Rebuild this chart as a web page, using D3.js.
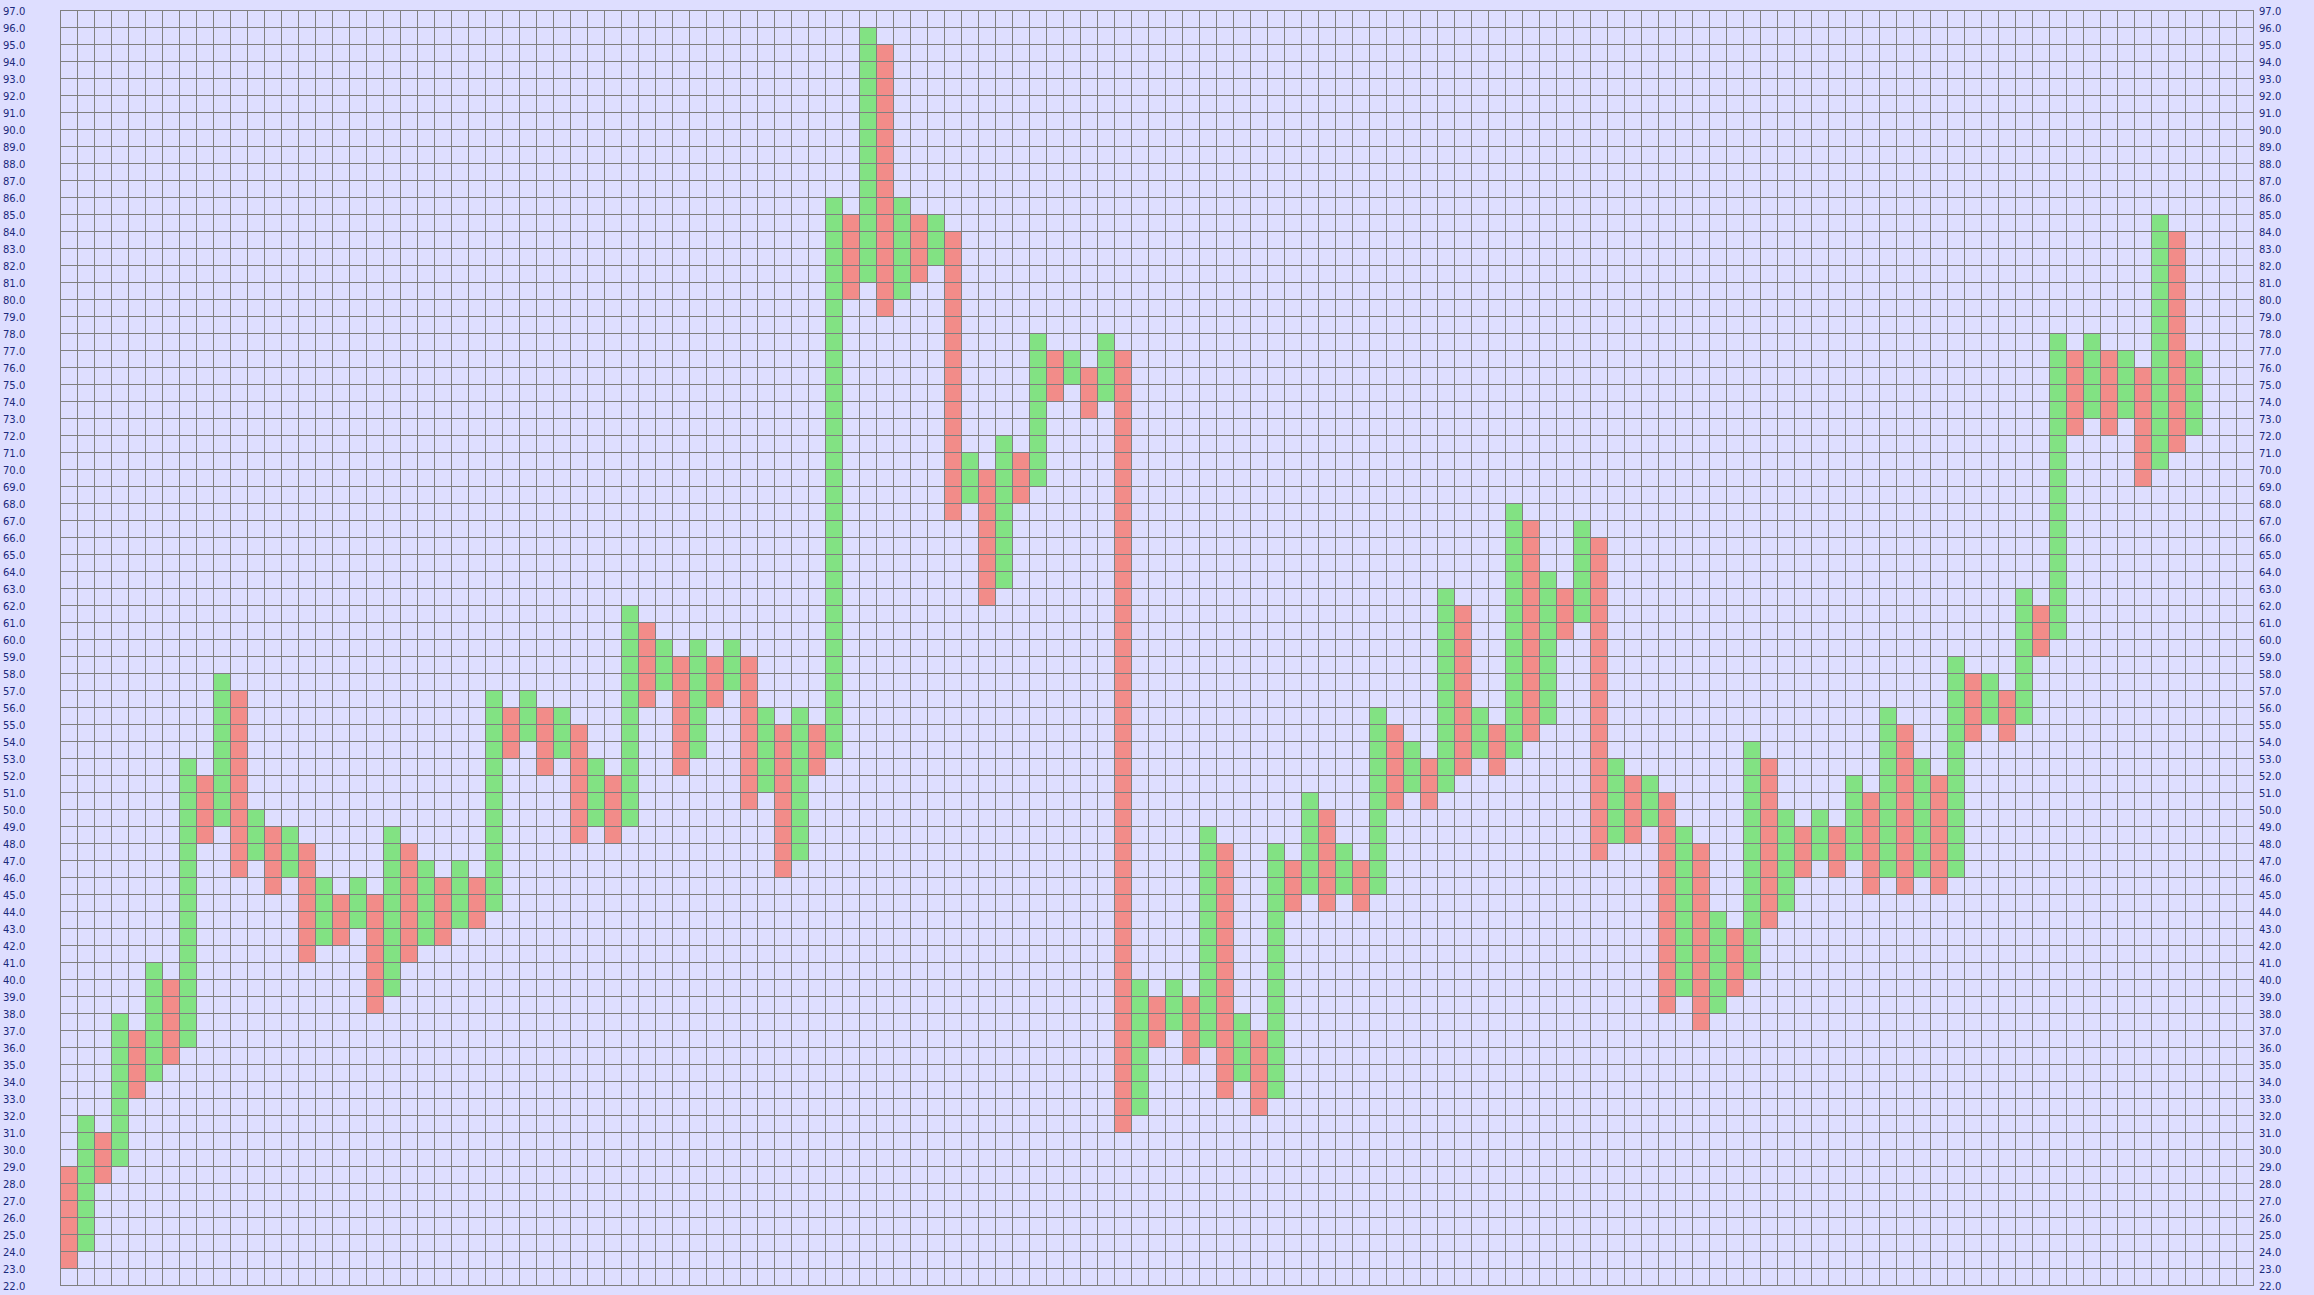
<!DOCTYPE html>
<html lang="en">

<head>
    <title>Box chart</title>
    <meta charset="utf-8">
    <script src="https://d3js.org/d3.v7.min.js"></script>
    <style>
        html, body { margin: 0; padding: 0; background: #dedeff; }
        svg { display: block; }
    </style>
</head>

<body>
    <div id="container"></div>
    <script>
        // Column data: where each column starts and ends (price boxes)
        const starts = [29, 24, 31, 29, 37, 34, 40, 36, 52, 49,
            57, 47, 49, 46, 48, 42, 45, 43, 45, 39,
            48, 42, 46, 43, 46, 44, 56, 54, 56, 53,
            55, 49, 52, 49, 61, 57, 59, 53, 59, 57,
            59, 51, 55, 47, 55, 53, 85, 81, 95, 80,
            85, 82, 84, 68, 70, 63, 71, 69, 77, 75,
            76, 74, 77, 32, 39, 37, 39, 36, 48, 34,
            37, 33, 47, 45, 50, 45, 47, 45, 55, 51,
            53, 51, 62, 53, 55, 53, 67, 55, 63, 61,
            66, 48, 52, 49, 51, 39, 48, 38, 43, 40,
            53, 44, 49, 47, 49, 47, 51, 46, 55, 46,
            52, 46, 58, 55, 57, 55, 62, 60, 77, 73,
            77, 73, 76, 70, 84, 72];

        const ends = [23, 32, 28, 38, 33, 41, 35, 53, 48, 58,
            46, 50, 45, 49, 41, 46, 42, 46, 38, 49,
            41, 47, 42, 47, 43, 57, 53, 57, 52, 56,
            48, 53, 48, 62, 56, 60, 52, 60, 56, 60,
            50, 56, 46, 56, 52, 86, 80, 96, 79, 86,
            81, 85, 67, 71, 62, 72, 68, 78, 74, 77,
            73, 78, 31, 40, 36, 40, 35, 49, 33, 38,
            32, 48, 44, 51, 44, 48, 44, 56, 50, 54,
            50, 63, 52, 56, 52, 68, 54, 64, 60, 67,
            47, 53, 48, 52, 38, 49, 37, 44, 39, 54,
            43, 50, 46, 50, 46, 52, 45, 56, 45, 53,
            45, 59, 54, 58, 54, 63, 59, 78, 72, 78,
            72, 77, 69, 85, 71, 77];

        // Axis setup
        const yMin = 22, yMax = 97;
        const columnCount = 129;
        const yTicks = d3.range(yMin, yMax + 1);

        // Chart dimensions
        const totalWidth = 2314, totalHeight = 1295;
        const margin = { top: 10, right: 61, bottom: 10, left: 60 };

        const svg = d3.select("#container")
            .append("svg")
            .attr("width", totalWidth)
            .attr("height", totalHeight);

        svg.append("rect")
            .attr("width", totalWidth)
            .attr("height", totalHeight)
            .attr("fill", "#dedeff");

        // Scales
        const xScale = d3.scaleLinear()
            .domain([0, columnCount])
            .range([margin.left, totalWidth - margin.right]);

        const yScale = d3.scaleLinear()
            .domain([yMin, yMax])
            .range([totalHeight - margin.bottom, margin.top]);

        const columns = starts.map((s, i) => ({ i, start: s, end: ends[i] }));

        // Draw boxes
        svg.append("g")
            .selectAll("rect")
            .data(columns)
            .join("rect")
            .attr("x", d => xScale(d.i))
            .attr("width", d => xScale(d.i + 1) - xScale(d.i))
            .attr("y", d => yScale(Math.max(d.start, d.end)))
            .attr("height", d => yScale(Math.min(d.start, d.end)) - yScale(Math.max(d.start, d.end)))
            .attr("fill", d => d.end > d.start ? "#82e283" : "#f28c89")
            .attr("shape-rendering", "crispEdges");

        // Grid
        const grid = svg.append("g")
            .attr("stroke", "#808080")
            .attr("stroke-width", 1)
            .attr("shape-rendering", "crispEdges");

        grid.selectAll("line.h")
            .data(yTicks)
            .join("line")
            .attr("class", "h")
            .attr("x1", xScale(0))
            .attr("x2", xScale(columnCount) + 1)
            .attr("y1", d => yScale(d) + 0.5)
            .attr("y2", d => yScale(d) + 0.5);

        grid.selectAll("line.v")
            .data(d3.range(0, columnCount + 1))
            .join("line")
            .attr("class", "v")
            .attr("x1", d => xScale(d) + 0.5)
            .attr("x2", d => xScale(d) + 0.5)
            .attr("y1", yScale(yMax))
            .attr("y2", yScale(yMin) + 1);

        // Axis labels, left and right
        const labelStyle = sel => sel
            .style("font-family", "'DejaVu Sans', sans-serif")
            .style("font-size", "10px")
            .style("fill", "#1c2a7c")
            .attr("dominant-baseline", "central");

        svg.append("g")
            .selectAll("text")
            .data(yTicks)
            .join("text")
            .attr("x", 3)
            .attr("y", d => yScale(d) + 1)
            .text(d => d3.format(".1f")(d))
            .call(labelStyle);

        svg.append("g")
            .selectAll("text")
            .data(yTicks)
            .join("text")
            .attr("x", xScale(columnCount) + 6)
            .attr("y", d => yScale(d) + 1)
            .text(d => d3.format(".1f")(d))
            .call(labelStyle);
    </script>
</body>

</html>
